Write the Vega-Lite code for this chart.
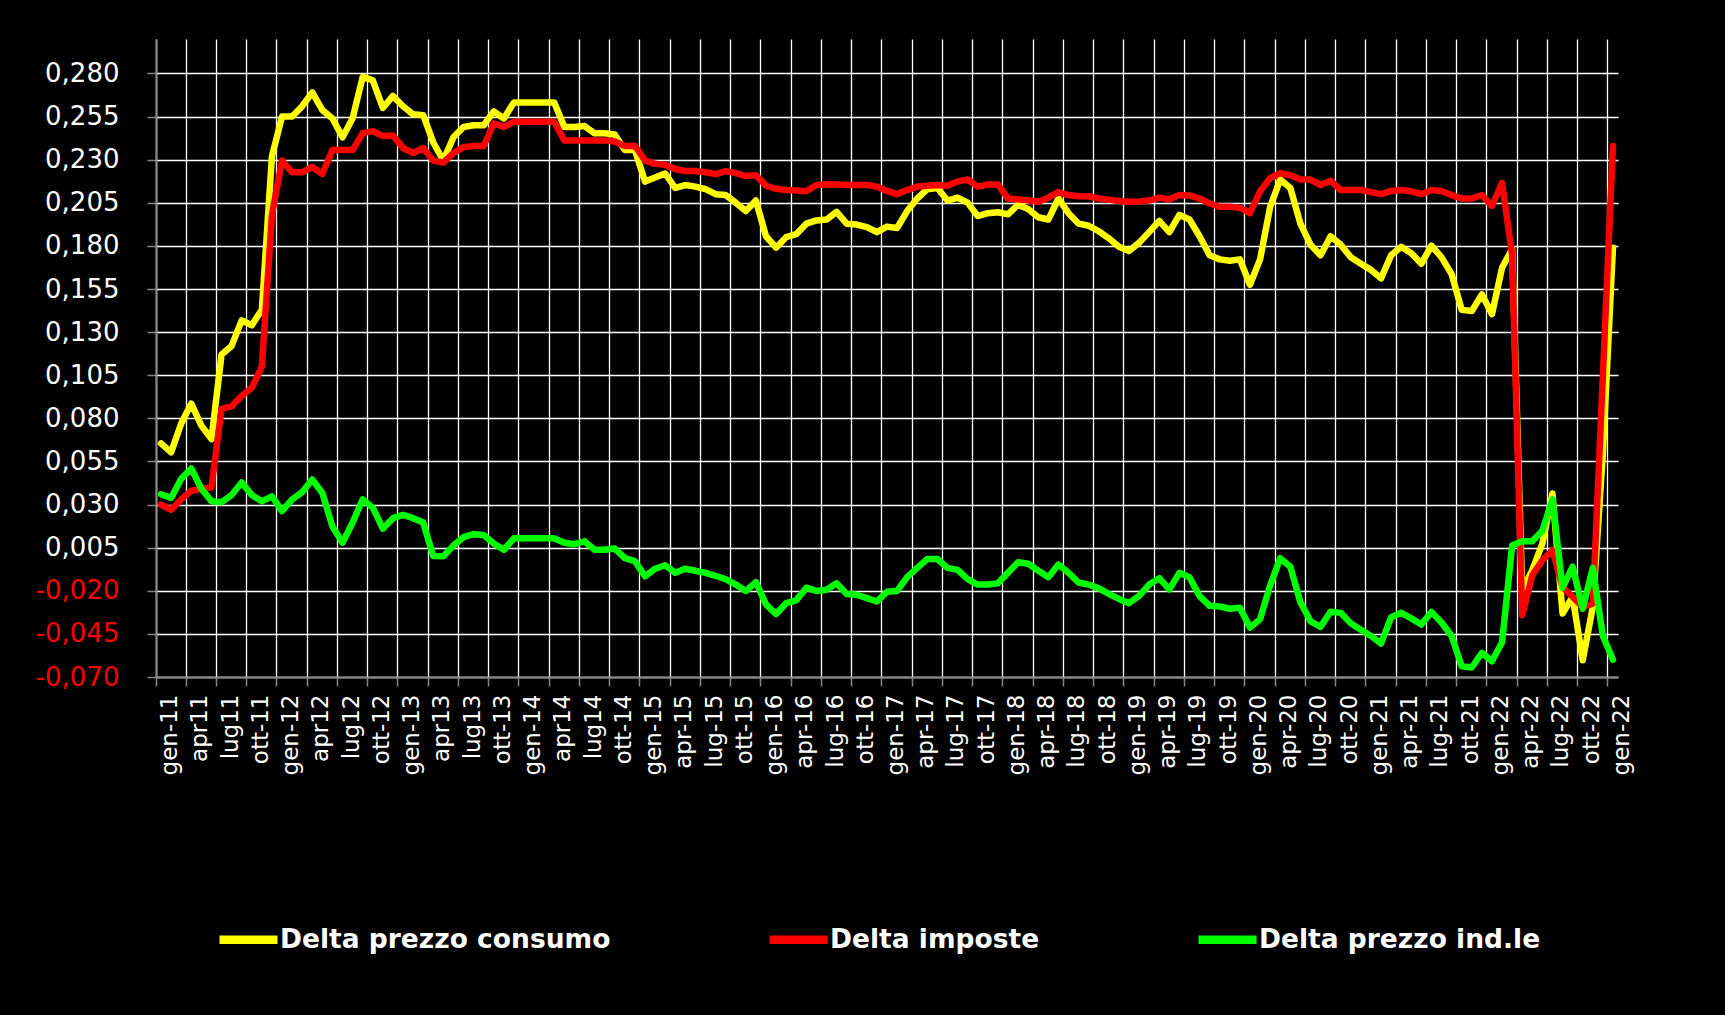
{
  "$schema": "https://vega.github.io/schema/vega-lite/v6.json",
  "autosize": {"type": "none"},
  "padding": {"left": 156, "top": 39, "right": 107, "bottom": 338},
  "width": 1462,
  "height": 638,
  "background": "black",
  "config": {"view": {"stroke": null}},
  "data": {"values": [
    {"mese": "gen-11", "consumo": 0.0655, "imposte": 0.030, "indle": 0.036},
    {"mese": "feb-11", "consumo": 0.0603, "imposte": 0.027, "indle": 0.0338},
    {"mese": "mar-11", "consumo": 0.077, "imposte": 0.033, "indle": 0.045},
    {"mese": "apr-11", "consumo": 0.0885, "imposte": 0.038, "indle": 0.0509},
    {"mese": "mag-11", "consumo": 0.0758, "imposte": 0.039, "indle": 0.0392},
    {"mese": "giu-11", "consumo": 0.068, "imposte": 0.040, "indle": 0.0319},
    {"mese": "lug-11", "consumo": 0.117, "imposte": 0.0855, "indle": 0.0314},
    {"mese": "ago-11", "consumo": 0.122, "imposte": 0.087, "indle": 0.0355},
    {"mese": "set-11", "consumo": 0.1368, "imposte": 0.093, "indle": 0.0428},
    {"mese": "ott-11", "consumo": 0.134, "imposte": 0.0977, "indle": 0.0355},
    {"mese": "nov-11", "consumo": 0.143, "imposte": 0.110, "indle": 0.0319},
    {"mese": "dic-11", "consumo": 0.232, "imposte": 0.198, "indle": 0.0348},
    {"mese": "gen-12", "consumo": 0.255, "imposte": 0.2295, "indle": 0.0262},
    {"mese": "feb-12", "consumo": 0.255, "imposte": 0.2227, "indle": 0.033},
    {"mese": "mar-12", "consumo": 0.261, "imposte": 0.2227, "indle": 0.0372},
    {"mese": "apr-12", "consumo": 0.269, "imposte": 0.2258, "indle": 0.0445},
    {"mese": "mag-12", "consumo": 0.2588, "imposte": 0.2217, "indle": 0.0367},
    {"mese": "giu-12", "consumo": 0.2539, "imposte": 0.2356, "indle": 0.0172},
    {"mese": "lug-12", "consumo": 0.243, "imposte": 0.2356, "indle": 0.0079},
    {"mese": "ago-12", "consumo": 0.254, "imposte": 0.2356, "indle": 0.0196},
    {"mese": "set-12", "consumo": 0.278, "imposte": 0.2454, "indle": 0.033},
    {"mese": "ott-12", "consumo": 0.276, "imposte": 0.2466, "indle": 0.0282},
    {"mese": "nov-12", "consumo": 0.260, "imposte": 0.2437, "indle": 0.016},
    {"mese": "dic-12", "consumo": 0.267, "imposte": 0.2441, "indle": 0.0221},
    {"mese": "gen-13", "consumo": 0.261, "imposte": 0.2368, "indle": 0.024},
    {"mese": "feb-13", "consumo": 0.2563, "imposte": 0.2339, "indle": 0.0221},
    {"mese": "mar-13", "consumo": 0.2558, "imposte": 0.2368, "indle": 0.0196},
    {"mese": "apr-13", "consumo": 0.240, "imposte": 0.2295, "indle": 0.0001},
    {"mese": "mag-13", "consumo": 0.2295, "imposte": 0.2283, "indle": 0.000},
    {"mese": "giu-13", "consumo": 0.243, "imposte": 0.2339, "indle": 0.0062},
    {"mese": "lug-13", "consumo": 0.249, "imposte": 0.2373, "indle": 0.0111},
    {"mese": "ago-13", "consumo": 0.250, "imposte": 0.238, "indle": 0.0128},
    {"mese": "set-13", "consumo": 0.250, "imposte": 0.238, "indle": 0.0123},
    {"mese": "ott-13", "consumo": 0.258, "imposte": 0.251, "indle": 0.0074},
    {"mese": "nov-13", "consumo": 0.2539, "imposte": 0.249, "indle": 0.0038},
    {"mese": "dic-13", "consumo": 0.2632, "imposte": 0.252, "indle": 0.0104},
    {"mese": "gen-14", "consumo": 0.2632, "imposte": 0.252, "indle": 0.0104},
    {"mese": "feb-14", "consumo": 0.2632, "imposte": 0.252, "indle": 0.0104},
    {"mese": "mar-14", "consumo": 0.2632, "imposte": 0.252, "indle": 0.0104},
    {"mese": "apr-14", "consumo": 0.2632, "imposte": 0.252, "indle": 0.0104},
    {"mese": "mag-14", "consumo": 0.249, "imposte": 0.2412, "indle": 0.0079},
    {"mese": "giu-14", "consumo": 0.249, "imposte": 0.2412, "indle": 0.007},
    {"mese": "lug-14", "consumo": 0.2495, "imposte": 0.2412, "indle": 0.0087},
    {"mese": "ago-14", "consumo": 0.2453, "imposte": 0.2412, "indle": 0.0038},
    {"mese": "set-14", "consumo": 0.2453, "imposte": 0.2412, "indle": 0.0038},
    {"mese": "ott-14", "consumo": 0.2446, "imposte": 0.2405, "indle": 0.0045},
    {"mese": "nov-14", "consumo": 0.2356, "imposte": 0.238, "indle": -0.0011},
    {"mese": "dic-14", "consumo": 0.2356, "imposte": 0.238, "indle": -0.0028},
    {"mese": "gen-15", "consumo": 0.2173, "imposte": 0.2295, "indle": -0.0116},
    {"mese": "feb-15", "consumo": 0.2197, "imposte": 0.2276, "indle": -0.0072},
    {"mese": "mar-15", "consumo": 0.222, "imposte": 0.227, "indle": -0.0052},
    {"mese": "apr-15", "consumo": 0.2136, "imposte": 0.2246, "indle": -0.0096},
    {"mese": "mag-15", "consumo": 0.2153, "imposte": 0.2234, "indle": -0.0072},
    {"mese": "giu-15", "consumo": 0.2144, "imposte": 0.2234, "indle": -0.0084},
    {"mese": "lug-15", "consumo": 0.2129, "imposte": 0.2227, "indle": -0.0096},
    {"mese": "ago-15", "consumo": 0.21, "imposte": 0.2217, "indle": -0.0113},
    {"mese": "set-15", "consumo": 0.2095, "imposte": 0.2234, "indle": -0.0133},
    {"mese": "ott-15", "consumo": 0.2051, "imposte": 0.2222, "indle": -0.0164},
    {"mese": "nov-15", "consumo": 0.2002, "imposte": 0.2205, "indle": -0.0201},
    {"mese": "dic-15", "consumo": 0.2063, "imposte": 0.221, "indle": -0.015},
    {"mese": "gen-16", "consumo": 0.1856, "imposte": 0.2149, "indle": -0.0279},
    {"mese": "feb-16", "consumo": 0.179, "imposte": 0.2131, "indle": -0.0335},
    {"mese": "mar-16", "consumo": 0.1851, "imposte": 0.2124, "indle": -0.0272},
    {"mese": "apr-16", "consumo": 0.1868, "imposte": 0.2122, "indle": -0.0255},
    {"mese": "mag-16", "consumo": 0.1929, "imposte": 0.2117, "indle": -0.0182},
    {"mese": "giu-16", "consumo": 0.1948, "imposte": 0.2153, "indle": -0.0201},
    {"mese": "lug-16", "consumo": 0.1953, "imposte": 0.2158, "indle": -0.0194},
    {"mese": "ago-16", "consumo": 0.1997, "imposte": 0.2156, "indle": -0.0157},
    {"mese": "set-16", "consumo": 0.1929, "imposte": 0.2153, "indle": -0.0218},
    {"mese": "ott-16", "consumo": 0.1924, "imposte": 0.2153, "indle": -0.0223},
    {"mese": "nov-16", "consumo": 0.1909, "imposte": 0.2153, "indle": -0.0243},
    {"mese": "dic-16", "consumo": 0.188, "imposte": 0.2144, "indle": -0.0262},
    {"mese": "gen-17", "consumo": 0.1912, "imposte": 0.2119, "indle": -0.0206},
    {"mese": "feb-17", "consumo": 0.1904, "imposte": 0.21, "indle": -0.0201},
    {"mese": "mar-17", "consumo": 0.2002, "imposte": 0.2124, "indle": -0.0121},
    {"mese": "apr-17", "consumo": 0.2075, "imposte": 0.2144, "indle": -0.0067},
    {"mese": "mag-17", "consumo": 0.2129, "imposte": 0.2149, "indle": -0.0016},
    {"mese": "giu-17", "consumo": 0.2136, "imposte": 0.2153, "indle": -0.0016},
    {"mese": "lug-17", "consumo": 0.2063, "imposte": 0.2149, "indle": -0.0067},
    {"mese": "ago-17", "consumo": 0.208, "imposte": 0.2173, "indle": -0.0079},
    {"mese": "set-17", "consumo": 0.2051, "imposte": 0.2185, "indle": -0.0133},
    {"mese": "ott-17", "consumo": 0.1973, "imposte": 0.2144, "indle": -0.0164},
    {"mese": "nov-17", "consumo": 0.199, "imposte": 0.2156, "indle": -0.0164},
    {"mese": "dic-17", "consumo": 0.1995, "imposte": 0.2156, "indle": -0.0157},
    {"mese": "gen-18", "consumo": 0.1983, "imposte": 0.2075, "indle": -0.0096},
    {"mese": "feb-18", "consumo": 0.2039, "imposte": 0.207, "indle": -0.0035},
    {"mese": "mar-18", "consumo": 0.2014, "imposte": 0.2063, "indle": -0.0043},
    {"mese": "apr-18", "consumo": 0.1966, "imposte": 0.2056, "indle": -0.0084},
    {"mese": "mag-18", "consumo": 0.1953, "imposte": 0.208, "indle": -0.0121},
    {"mese": "giu-18", "consumo": 0.2075, "imposte": 0.2112, "indle": -0.0048},
    {"mese": "lug-18", "consumo": 0.199, "imposte": 0.2095, "indle": -0.0096},
    {"mese": "ago-18", "consumo": 0.1929, "imposte": 0.2088, "indle": -0.0152},
    {"mese": "set-18", "consumo": 0.1917, "imposte": 0.2088, "indle": -0.0164},
    {"mese": "ott-18", "consumo": 0.1885, "imposte": 0.2075, "indle": -0.0186},
    {"mese": "nov-18", "consumo": 0.1844, "imposte": 0.2068, "indle": -0.0218},
    {"mese": "dic-18", "consumo": 0.1795, "imposte": 0.2061, "indle": -0.0247},
    {"mese": "gen-19", "consumo": 0.177, "imposte": 0.2056, "indle": -0.0272},
    {"mese": "feb-19", "consumo": 0.1819, "imposte": 0.2058, "indle": -0.023},
    {"mese": "mar-19", "consumo": 0.188, "imposte": 0.2063, "indle": -0.0164},
    {"mese": "apr-19", "consumo": 0.1945, "imposte": 0.208, "indle": -0.0127},
    {"mese": "mag-19", "consumo": 0.188, "imposte": 0.207, "indle": -0.0192},
    {"mese": "giu-19", "consumo": 0.198, "imposte": 0.2095, "indle": -0.0096},
    {"mese": "lug-19", "consumo": 0.1953, "imposte": 0.2093, "indle": -0.0121},
    {"mese": "ago-19", "consumo": 0.1856, "imposte": 0.2075, "indle": -0.0231},
    {"mese": "set-19", "consumo": 0.1746, "imposte": 0.2046, "indle": -0.0287},
    {"mese": "ott-19", "consumo": 0.1722, "imposte": 0.2027, "indle": -0.0291},
    {"mese": "nov-19", "consumo": 0.1714, "imposte": 0.2027, "indle": -0.0304},
    {"mese": "dic-19", "consumo": 0.1722, "imposte": 0.2022, "indle": -0.0299},
    {"mese": "gen-20", "consumo": 0.1575, "imposte": 0.199, "indle": -0.0413},
    {"mese": "feb-20", "consumo": 0.1722, "imposte": 0.2117, "indle": -0.0365},
    {"mese": "mar-20", "consumo": 0.2026, "imposte": 0.2193, "indle": -0.0169},
    {"mese": "apr-20", "consumo": 0.2185, "imposte": 0.2222, "indle": -0.0011},
    {"mese": "mag-20", "consumo": 0.2136, "imposte": 0.221, "indle": -0.006},
    {"mese": "giu-20", "consumo": 0.1929, "imposte": 0.2185, "indle": -0.0267},
    {"mese": "lug-20", "consumo": 0.1807, "imposte": 0.2185, "indle": -0.0377},
    {"mese": "ago-20", "consumo": 0.1746, "imposte": 0.2153, "indle": -0.0409},
    {"mese": "set-20", "consumo": 0.1856, "imposte": 0.2178, "indle": -0.0321},
    {"mese": "ott-20", "consumo": 0.1807, "imposte": 0.2124, "indle": -0.0328},
    {"mese": "nov-20", "consumo": 0.1734, "imposte": 0.2124, "indle": -0.0389},
    {"mese": "dic-20", "consumo": 0.1697, "imposte": 0.2124, "indle": -0.0426},
    {"mese": "gen-21", "consumo": 0.1661, "imposte": 0.2112, "indle": -0.0462},
    {"mese": "feb-21", "consumo": 0.1612, "imposte": 0.21, "indle": -0.0506},
    {"mese": "mar-21", "consumo": 0.1746, "imposte": 0.2119, "indle": -0.0353},
    {"mese": "apr-21", "consumo": 0.1795, "imposte": 0.2124, "indle": -0.0328},
    {"mese": "mag-21", "consumo": 0.1758, "imposte": 0.2117, "indle": -0.036},
    {"mese": "giu-21", "consumo": 0.1697, "imposte": 0.21, "indle": -0.0396},
    {"mese": "lug-21", "consumo": 0.1802, "imposte": 0.2124, "indle": -0.0323},
    {"mese": "ago-21", "consumo": 0.1734, "imposte": 0.2119, "indle": -0.0384},
    {"mese": "set-21", "consumo": 0.1636, "imposte": 0.2095, "indle": -0.0462},
    {"mese": "ott-21", "consumo": 0.1429, "imposte": 0.2075, "indle": -0.0638},
    {"mese": "nov-21", "consumo": 0.1422, "imposte": 0.2075, "indle": -0.0645},
    {"mese": "dic-21", "consumo": 0.1519, "imposte": 0.2095, "indle": -0.056},
    {"mese": "gen-22", "consumo": 0.1404, "imposte": 0.2032, "indle": -0.0609},
    {"mese": "feb-22", "consumo": 0.1673, "imposte": 0.2165, "indle": -0.0499},
    {"mese": "mar-22", "consumo": 0.1782, "imposte": 0.175, "indle": 0.0062},
    {"mese": "apr-22", "consumo": -0.020, "imposte": -0.0342, "indle": 0.0087},
    {"mese": "mag-22", "consumo": -0.008, "imposte": -0.011, "indle": 0.0087},
    {"mese": "giu-22", "consumo": 0.0074, "imposte": -0.0023, "indle": 0.0148},
    {"mese": "lug-22", "consumo": 0.0364, "imposte": 0.0035, "indle": 0.0331},
    {"mese": "ago-22", "consumo": -0.0332, "imposte": -0.0178, "indle": -0.0182},
    {"mese": "set-22", "consumo": -0.0236, "imposte": -0.0236, "indle": -0.006},
    {"mese": "ott-22", "consumo": -0.0603, "imposte": -0.0294, "indle": -0.0304},
    {"mese": "nov-22", "consumo": -0.0294, "imposte": -0.0275, "indle": -0.0067},
    {"mese": "dic-22", "consumo": 0.060, "imposte": 0.105, "indle": -0.0462},
    {"mese": "gen-23", "consumo": 0.179, "imposte": 0.238, "indle": -0.060}
  ]},
  "transform": [
    {"fold": ["consumo", "imposte", "indle"], "as": ["serie", "valore"]}
  ],
  "mark": {"type": "line", "strokeWidth": 6.5, "strokeJoin": "round", "strokeCap": "round"},
  "encoding": {
    "x": {
      "field": "mese",
      "type": "ordinal",
      "sort": null,
      "bandPosition": 0.5,
      "scale": {"type": "band", "paddingInner": 0, "paddingOuter": 0},
      "axis": {
        "title": null,
        "values": ["gen-11","apr-11","lug-11","ott-11","gen-12","apr-12","lug-12","ott-12","gen-13","apr-13","lug-13","ott-13","gen-14","apr-14","lug-14","ott-14","gen-15","apr-15","lug-15","ott-15","gen-16","apr-16","lug-16","ott-16","gen-17","apr-17","lug-17","ott-17","gen-18","apr-18","lug-18","ott-18","gen-19","apr-19","lug-19","ott-19","gen-20","apr-20","lug-20","ott-20","gen-21","apr-21","lug-21","ott-21","gen-22","apr-22","lug-22","ott-22","gen-23"],
        "labelExpr": "datum.value == 'gen-23' ? 'gen-22' : (test(/^(apr|lug)-1[1-4]$/, datum.value) ? replace(datum.value, '-', '') : datum.value)",
        "bandPosition": 0,
        "labelOffset": 9,
        "labelAngle": -90,
        "labelAlign": "right",
        "labelBaseline": "middle",
        "labelFont": "DejaVu Sans",
        "labelFontSize": 23,
        "labelColor": "white",
        "labelPadding": 8,
        "labelOverlap": false,
        "labelBound": false,
        "tickSize": 9,
        "tickColor": "#888888",
        "tickWidth": 1.5,
        "domainColor": "#888888",
        "domainWidth": 2,
        "grid": true,
        "gridColor": "white",
        "gridWidth": 1.3
      }
    },
    "y": {
      "field": "valore",
      "type": "quantitative",
      "scale": {"domain": [-0.07, 0.30], "nice": false, "zero": false},
      "axis": {
        "title": null,
        "values": [-0.07, -0.045, -0.02, 0.005, 0.03, 0.055, 0.08, 0.105, 0.13, 0.155, 0.18, 0.205, 0.23, 0.255, 0.28],
        "labelExpr": "replace(replace(format(datum.value, '.3f'), '.', ','), '\u2212', '-')",
        "labelColor": {"condition": {"test": "datum.value < 0", "value": "#ff0000"}, "value": "#ffffff"},
        "labelFont": "DejaVu Sans",
        "labelFontSize": 26,
        "labelPadding": 28,
        "tickSize": 9,
        "tickColor": "#888888",
        "tickWidth": 1.5,
        "domainColor": "#888888",
        "domainWidth": 2,
        "grid": true,
        "gridColor": "white",
        "gridWidth": 1.3
      }
    },
    "color": {
      "field": "serie",
      "type": "nominal",
      "scale": {"domain": ["consumo", "imposte", "indle"], "range": ["#ffff00", "#ff0000", "#00ff00"]},
      "legend": {
        "title": null,
        "orient": "none",
        "legendX": 59,
        "legendY": 867,
        "direction": "horizontal",
        "padding": 0,
        "symbolType": "stroke",
        "symbolSize": 3364,
        "symbolStrokeWidth": 8.5,
        "labelExpr": "datum.label == 'consumo' ? 'Delta prezzo consumo' : (datum.label == 'imposte' ? 'Delta imposte' : 'Delta prezzo ind.le')",
        "labelFont": "DejaVu Sans",
        "labelFontSize": 26.5,
        "labelFontWeight": "bold",
        "labelColor": "white",
        "labelOffset": -2,
        "labelLimit": 0,
        "columnPadding": 141
      }
    }
  }
}
